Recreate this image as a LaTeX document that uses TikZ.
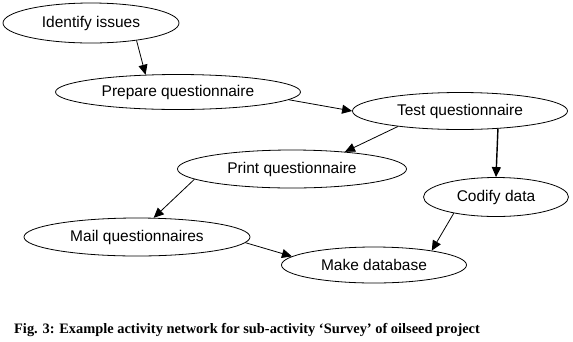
\documentclass[tikz,border=0pt]{standalone}
\usepackage{fontspec}
\setmainfont{Liberation Sans}
\newfontfamily\captionfont{Liberation Serif}
\usetikzlibrary{arrows.meta,shapes.geometric}

\begin{document}
\begin{tikzpicture}[x=1pt, y=-1pt, >={Triangle[length=10pt,width=9pt]},
  activity/.style={draw, ellipse, line width=0.8pt, inner sep=0pt, font=\fontsize{15.5}{18}\selectfont},
  link/.style={->, line width=0.8pt}]
\useasboundingbox (0,0) rectangle (573,341);
\node[activity, minimum width=176pt, minimum height=40pt] (ident) at (91,23) {Identify issues};
\node[activity, minimum width=245pt, minimum height=35pt] (prep) at (178,92) {Prepare questionnaire};
\node[activity, minimum width=215pt, minimum height=37pt] (test) at (460,111) {Test questionnaire};
\node[activity, minimum width=229pt, minimum height=38pt] (print) at (292,169) {Print questionnaire};
\node[activity, minimum width=145pt, minimum height=39pt] (codify) at (496,197) {Codify data};
\node[activity, minimum width=226pt, minimum height=38pt] (mail) at (137,237) {Mail questionnaires};
\node[activity, minimum width=185pt, minimum height=36pt] (mkdb) at (374,265) {Make database};
\draw[link] (ident.-21) -- (prep.152);
\draw[link] (prep.-4) -- (test.180);
\draw[link] (test.194) -- (print.18);
\draw[link, line width=1.4pt] (test.-25.8) -- (codify.north);
\draw[link] (print.186.6) -- (mail.49.6);
\draw[link] (mail.-3.6) -- (mkdb.174);
\draw[link] (codify.201.4) -- (mkdb.14);
\node[anchor=base west, inner sep=0pt, font=\captionfont\bfseries\fontsize{14.4}{17}\selectfont] (caption) at (14,333) {Fig. 3: Example activity network for sub-activity ‘Survey’ of oilseed project};
\end{tikzpicture}
\end{document}
